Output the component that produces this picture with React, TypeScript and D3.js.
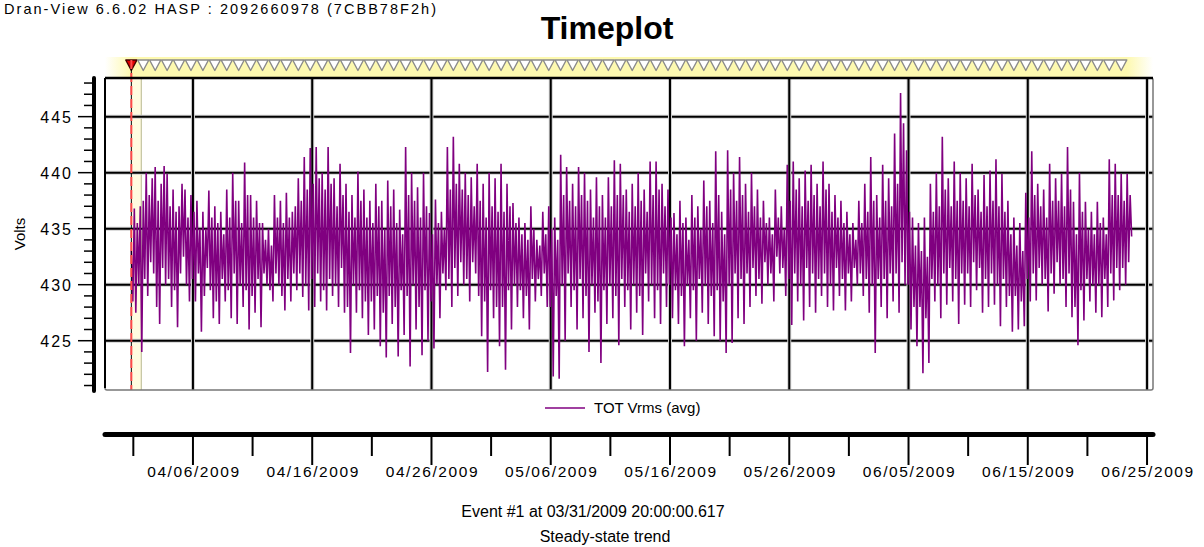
import React from 'react';
import * as d3 from 'd3';

const W = 1204;
const H = 547;
const FONT = '"Liberation Sans", Arial, sans-serif';

const headerText = 'Dran-View 6.6.02 HASP : 2092660978 (7CBB78F2h)';
const chartTitle = 'Timeplot';
const yLabel = 'Volts';
const seriesName = 'TOT Vrms (avg)';
const footerLines = ['Event #1 at 03/31/2009 20:00:00.617', 'Steady-state trend'];

const yTicks = [425, 430, 435, 440, 445];
const xTickLabels = [
  '04/06/2009', '04/16/2009', '04/26/2009', '05/06/2009', '05/16/2009',
  '05/26/2009', '06/05/2009', '06/15/2009', '06/25/2009',
];

// steady-state samples, one every 3 h from the first event
const seriesStart = new Date(2009, 2, 31, 20, 0, 0);
const stepHours = 3;
const eventCount = 84;

// TOT Vrms (avg), 8 samples per day
const vrmsAvg = [
  433.0, 428.5, 436.8, 427.5, 435.5, 430.0, 437.0, 424.0,
  437.5, 430.5, 440.0, 429.0, 438.0, 432.0, 439.5, 431.0,
  440.5, 428.0, 437.5, 426.5, 439.0, 431.5, 440.6, 430.0,
  439.9, 430.5, 437.0, 428.0, 438.5, 429.5, 436.5, 426.2,
  437.0, 431.0, 439.0, 432.5, 438.5, 430.0, 436.0, 428.5,
  438.0, 430.5, 436.5, 428.5, 437.5, 431.0, 435.0, 425.8,
  436.5, 429.0, 435.0, 431.5, 438.4, 429.5, 436.0, 427.0,
  437.0, 428.5, 435.5, 426.5, 436.5, 430.5, 434.5, 428.5,
  438.5, 429.5, 436.0, 427.0, 440.0, 431.0, 437.5, 426.5,
  437.5, 430.0, 435.5, 428.0, 440.9, 429.5, 438.0, 426.0,
  438.0, 429.0, 436.0, 427.5, 437.5, 430.5, 435.5, 426.2,
  435.5, 431.0, 434.0, 430.0, 435.0, 429.5, 433.5, 428.5,
  438.0, 431.0, 436.0, 430.0, 437.5, 429.0, 435.5, 427.7,
  438.2, 430.5, 436.0, 428.5, 436.5, 431.0, 437.0, 429.5,
  439.5, 431.0, 437.5, 428.9, 441.4, 430.0, 438.5, 427.7,
  442.2, 430.5, 439.0, 428.0, 442.3, 431.0, 439.5, 428.5,
  440.0, 429.5, 438.5, 427.7, 442.3, 430.5, 439.0, 429.0,
  439.5, 430.0, 437.0, 428.0, 440.8, 431.5, 438.0, 427.5,
  439.0, 428.0, 436.5, 423.9, 438.0, 430.0, 436.0, 427.5,
  440.1, 429.5, 437.5, 427.0, 438.5, 428.5, 436.0, 425.5,
  437.5, 428.5, 435.5, 426.0, 439.0, 429.0, 437.0, 424.5,
  437.5, 427.5, 435.0, 423.5, 439.3, 429.0, 437.0, 426.5,
  438.5, 428.0, 435.5, 423.6, 436.7, 429.5, 434.5, 425.5,
  442.3, 429.0, 438.0, 422.7, 440.0, 430.0, 437.5, 426.0,
  438.7, 428.0, 436.0, 423.7, 440.0, 429.5, 437.0, 425.0,
  436.4, 428.5, 434.5, 424.3, 437.6, 430.0, 435.5, 427.0,
  436.5, 431.0, 435.0, 429.5, 442.3, 430.5, 438.5, 428.0,
  443.2, 431.5, 439.0, 429.0, 440.8, 432.0, 438.5, 430.0,
  440.0, 430.5, 438.0, 428.5, 439.6, 432.0, 437.0, 431.0,
  440.8, 429.0, 437.5, 425.4, 439.0, 428.5, 436.0, 422.2,
  440.0, 429.5, 437.0, 427.0, 439.5, 428.0, 436.5, 424.5,
  440.8, 428.0, 436.5, 422.4, 439.0, 429.5, 437.0, 426.0,
  437.3, 430.0, 435.5, 428.0, 436.0, 429.5, 434.5, 427.0,
  435.5, 429.0, 434.0, 426.0, 437.0, 430.5, 435.0, 428.5,
  434.0, 430.5, 433.5, 429.0, 436.5, 431.0, 434.5, 428.0,
  437.0, 428.0, 435.0, 421.8, 436.0, 429.0, 434.0, 421.6,
  441.6, 430.0, 438.0, 425.0, 440.5, 431.0, 437.5, 428.0,
  439.0, 429.5, 437.0, 426.0, 440.5, 430.5, 438.0, 427.0,
  440.0, 429.0, 437.5, 424.0, 438.5, 430.0, 436.0, 427.5,
  439.6, 428.5, 437.0, 423.0, 438.0, 429.5, 436.0, 426.5,
  439.6, 430.0, 437.0, 427.0, 441.1, 429.0, 438.0, 424.6,
  440.8, 430.5, 438.0, 428.0, 438.5, 429.5, 436.5, 426.0,
  439.0, 430.0, 437.0, 427.5, 440.0, 429.0, 437.5, 425.5,
  438.5, 431.0, 436.5, 428.5, 441.0, 430.0, 438.0, 427.0,
  441.0, 429.5, 438.5, 426.5, 439.0, 431.0, 437.0, 428.0,
  438.5, 430.0, 436.0, 427.0, 436.4, 429.5, 434.5, 426.5,
  437.5, 429.0, 435.5, 424.5, 436.0, 430.0, 434.0, 427.0,
  438.0, 429.5, 436.0, 425.0, 437.0, 430.5, 435.0, 427.5,
  439.3, 430.0, 437.0, 426.5, 437.5, 429.0, 435.5, 425.4,
  441.9, 429.5, 438.0, 425.0, 436.5, 428.5, 434.5, 423.9,
  442.0, 430.0, 438.5, 424.8, 440.0, 431.0, 437.5, 427.0,
  441.4, 430.5, 438.0, 426.5, 439.0, 431.0, 436.5, 428.0,
  440.0, 431.5, 437.0, 429.0, 438.5, 430.5, 436.0, 428.3,
  437.5, 432.0, 435.5, 430.0, 436.0, 431.0, 434.5, 428.5,
  438.5, 432.5, 436.0, 431.0, 437.0, 431.5, 435.0, 429.0,
  440.7, 430.5, 437.5, 426.4, 441.0, 431.0, 438.5, 428.5,
  439.5, 430.0, 437.0, 426.8, 440.2, 431.5, 437.5, 428.0,
  440.7, 431.0, 438.0, 427.5, 439.0, 430.5, 437.0, 429.0,
  441.0, 431.0, 438.5, 428.0, 439.0, 430.0, 436.5, 427.7,
  438.0, 431.5, 436.0, 429.0, 437.5, 430.5, 435.5, 427.7,
  436.5, 431.0, 434.5, 428.5, 435.5, 431.5, 434.0, 430.0,
  437.5, 431.0, 435.5, 429.0, 439.0, 430.5, 436.5, 427.5,
  441.4, 430.0, 437.5, 423.9, 438.0, 430.5, 436.0, 428.0,
  440.7, 430.5, 437.5, 427.0, 439.5, 431.0, 437.0, 428.5,
  443.5, 431.0, 439.0, 427.5, 447.1, 432.0, 444.4, 430.0,
  442.0, 430.0, 436.5, 426.0, 436.0, 428.0, 433.5, 424.5,
  435.5, 428.0, 433.0, 422.1, 436.0, 427.0, 432.5, 423.0,
  439.0, 430.5, 436.5, 428.5, 440.0, 430.0, 437.0, 427.0,
  443.2, 431.0, 438.5, 428.2, 439.5, 431.5, 437.0, 428.5,
  441.0, 430.5, 437.5, 426.5, 440.0, 431.0, 437.5, 428.2,
  439.5, 431.0, 437.0, 428.0, 440.8, 432.0, 438.0, 429.5,
  438.5, 431.5, 436.5, 427.5, 439.8, 430.5, 437.0, 428.0,
  440.2, 431.0, 437.5, 428.2, 441.2, 430.0, 437.0, 426.3,
  439.9, 430.5, 436.5, 428.0, 437.5, 429.0, 434.5, 425.8,
  436.0, 429.0, 433.5, 426.0, 435.5, 428.5, 433.0, 426.3,
  438.2, 430.5, 436.0, 428.5, 441.9, 431.0, 438.0, 428.6,
  439.0, 431.5, 437.0, 430.0, 438.5, 430.5, 436.0, 427.6,
  440.8, 431.0, 437.5, 429.2, 439.5, 432.0, 437.5, 430.0,
  439.9, 430.5, 437.0, 428.0, 442.3, 431.0, 438.5, 427.1,
  437.4, 428.0, 434.5, 424.6, 440.0, 429.5, 436.5, 426.8,
  437.4, 430.5, 435.0, 428.5, 436.5, 430.0, 434.5, 427.5,
  437.4, 430.0, 435.5, 427.1, 436.0, 430.5, 434.5, 428.0,
  441.2, 431.0, 438.0, 428.6, 440.8, 431.5, 438.0, 429.5,
  439.9, 431.5, 437.5, 430.0, 439.9, 432.0, 438.0, 434.3,
];

const plot = { left: 105, right: 1153, top: 78, bottom: 390 };

export default function App() {
  const parse = d3.timeParse('%m/%d/%Y');
  const majorDates = xTickLabels.map((s) => parse(s) as Date);
  const minorDates = majorDates.map((d) => d3.timeDay.offset(d, -5));

  const x = d3
    .scaleTime()
    .domain([new Date(2009, 2, 29, 15, 0, 0), new Date(2009, 5, 25, 12, 0, 0)])
    .range([plot.left, plot.right]);

  const y = d3.scaleLinear().domain([420.6, 448.45]).range([plot.bottom, plot.top]);

  const points = vrmsAvg.map((v, i) => ({
    t: d3.timeHour.offset(seriesStart, i * stepHours),
    v,
  }));

  const line = d3
    .line<{ t: Date; v: number }>()
    .x((d) => x(d.t))
    .y((d) => y(d.v));

  const events = d3.range(eventCount).map((i) => d3.timeDay.offset(seriesStart, i));
  const x0 = x(seriesStart);
  const x1 = x(d3.timeHour.offset(seriesStart, 20));
  const minorY = d3.range(421, 449);

  const axisY = 434.5;

  return (
    <svg
      width={W}
      height={H}
      style={{ position: 'absolute', left: 0, top: 0, background: '#fff' }}
      fontFamily={FONT}
    >
      <defs>
        <linearGradient id="band" x1="0" x2="1" y1="0" y2="0">
          <stop offset="0" stopColor="#fdf9b0" stopOpacity="0" />
          <stop offset="0.025" stopColor="#fdf9b0" stopOpacity="1" />
          <stop offset="0.975" stopColor="#fdf9b0" stopOpacity="1" />
          <stop offset="1" stopColor="#fdf9b0" stopOpacity="0" />
        </linearGradient>
      </defs>

      <text x={4} y={14} fontSize={14.5} textLength={432} lengthAdjust="spacing" fill="#000">
        {headerText}
      </text>
      <text x={607} y={39} fontSize={32} fontWeight="bold" textAnchor="middle" fill="#000">
        {chartTitle}
      </text>

      {/* event band */}
      <rect x={plot.left} y={57} width={plot.right - plot.left} height={20} fill="url(#band)" />
      {events.map((d, i) => {
        const cx = x(d);
        return (
          <path
            key={i}
            d={`M${cx - 5.6},60 L${cx + 5.6},60 L${cx},70.5 Z`}
            fill={i === 0 ? '#e00000' : '#ffffff'}
            stroke={i === 0 ? '#400000' : '#8a8a8a'}
            strokeWidth={1.4}
            strokeLinejoin="round"
          />
        );
      })}

      {/* plot background + first event highlight */}
      <rect x={plot.left} y={plot.top} width={plot.right - plot.left} height={plot.bottom - plot.top} fill="#fff" />
      <rect x={x0} y={plot.top} width={x1 - x0} height={plot.bottom - plot.top} fill="#fffbe0" />
      <line x1={x1} x2={x1} y1={plot.top} y2={plot.bottom} stroke="#b8b890" strokeWidth={1} />

      {/* grid */}
      {yTicks.map((t) => (
        <g key={t}>
          <line x1={plot.left} x2={plot.right} y1={y(t)} y2={y(t)} stroke="#d0d0d0" strokeWidth={4} />
          <line x1={plot.left} x2={plot.right} y1={y(t)} y2={y(t)} stroke="#000" strokeWidth={2} />
        </g>
      ))}
      {majorDates.map((d, i) => (
        <g key={i}>
          <line x1={x(d)} x2={x(d)} y1={plot.top} y2={plot.bottom} stroke="#d0d0d0" strokeWidth={4} />
          <line x1={x(d)} x2={x(d)} y1={plot.top} y2={plot.bottom} stroke="#000" strokeWidth={2} />
        </g>
      ))}

      {/* series */}
      <path d={line(points) ?? ''} fill="none" stroke="#800080" strokeWidth={1.6} />

      {/* event cursor */}
      <line x1={x0} x2={x0} y1={60} y2={plot.bottom} stroke="#000" strokeWidth={1} />
      <line x1={x0} x2={x0} y1={60} y2={plot.bottom} stroke="#ff4a4a" strokeWidth={2} strokeDasharray="9 4" />

      {/* frame */}
      <rect
        x={plot.left}
        y={plot.top}
        width={plot.right - plot.left}
        height={plot.bottom - plot.top}
        fill="none"
        stroke="#777"
        strokeWidth={1.5}
        rx={2}
      />
      <line x1={plot.left} x2={plot.right} y1={plot.top} y2={plot.top} stroke="#000" strokeWidth={2.5} />
      <line x1={plot.left} x2={plot.left} y1={plot.top} y2={plot.bottom - 2} stroke="#000" strokeWidth={2} />

      {/* y axis */}
      <line x1={94} x2={94} y1={plot.top} y2={plot.bottom + 1} stroke="#000" strokeWidth={4} strokeLinecap="round" />
      {minorY.map((v) => (
        <line key={v} x1={yTicks.includes(v) ? 78 : 84} x2={94} y1={y(v)} y2={y(v)} stroke="#000" strokeWidth={1.5} />
      ))}
      {yTicks.map((t) => (
        <text key={t} x={73} y={y(t) + 6} fontSize={16} letterSpacing={2} textAnchor="end" fill="#000">
          {t}
        </text>
      ))}
      <text
        transform={`translate(25,${(plot.top + plot.bottom) / 2}) rotate(-90)`}
        fontSize={15}
        textAnchor="middle"
        fill="#000"
      >
        {yLabel}
      </text>

      {/* legend */}
      <line x1={545} x2={585} y1={408} y2={408} stroke="#800080" strokeWidth={1.5} />
      <text x={594} y={413} fontSize={15} fill="#000">
        {seriesName}
      </text>

      {/* time axis */}
      <line x1={plot.left} x2={plot.right} y1={axisY} y2={axisY} stroke="#000" strokeWidth={5} strokeLinecap="round" />
      {majorDates.map((d, i) => (
        <line key={i} x1={x(d)} x2={x(d)} y1={axisY} y2={465} stroke="#000" strokeWidth={2} />
      ))}
      {minorDates.map((d, i) => (
        <line key={i} x1={x(d)} x2={x(d)} y1={axisY} y2={456} stroke="#000" strokeWidth={2} />
      ))}
      {majorDates.map((d, i) => (
        <text key={i} x={x(d) + 1} y={477} fontSize={15.5} letterSpacing={1.6} textAnchor="middle" fill="#000">
          {xTickLabels[i]}
        </text>
      ))}

      {/* footer */}
      <text x={593} y={517} fontSize={16} textAnchor="middle" fill="#000">
        {footerLines[0]}
      </text>
      <text x={605} y={542} fontSize={16} textAnchor="middle" fill="#000">
        {footerLines[1]}
      </text>
    </svg>
  );
}
